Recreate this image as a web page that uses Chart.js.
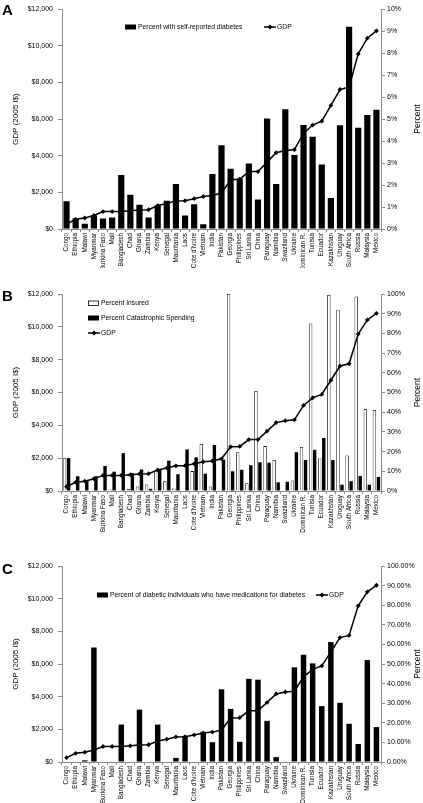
<!DOCTYPE html>
<html><head><meta charset="utf-8">
<script src="https://cdn.jsdelivr.net/npm/chart.js@4.4.1/dist/chart.umd.min.js"></script>
<style>
html,body{margin:0;padding:0;background:#fff;width:423px;height:803px;overflow:hidden;}
.panel{position:absolute;left:0;width:423px;}
.lbl{position:absolute;left:2px;font:bold 15px "Liberation Sans",Arial,sans-serif;color:#000;}
</style></head><body>
<div class="panel" style="top:0;height:268px"><canvas id="cA" width="423" height="268"></canvas></div>
<div class="panel" style="top:268px;height:267px"><canvas id="cB" width="423" height="267"></canvas></div>
<div class="panel" style="top:535px;height:268px"><canvas id="cC" width="423" height="268"></canvas></div>
<div class="lbl" style="top:1px">A</div>
<div class="lbl" style="top:287px">B</div>
<div class="lbl" style="top:560px">C</div>
<script>
const countries = ["Congo","Ethiopia","Malawi","Myanmar","Burkina Faso","Mali","Bangladesh","Chad","Ghana","Zambia","Kenya","Senegal","Mauritania","Laos","Cote d'Ivoire","Vietnam","India","Pakistan","Georgia","Philippines","Sri Lanka","China","Paraguay","Namibia","Swaziland","Ukraine","Dominican R.","Tunisia","Ecuador","Kazakhstan","Uruguay","South Africa","Russia","Malaysia","Mexico"];
const gdp = [265,530,600,740,950,950,950,990,1040,1055,1280,1395,1535,1545,1655,1775,1830,1960,2690,2715,3135,3135,3650,4165,4285,4335,5215,5675,5885,6745,7615,7750,9560,10420,10820];
const diabetesPct = [1.26,0.49,0.24,0.62,0.48,0.52,2.46,1.56,1.10,0.52,1.07,1.29,2.05,0.61,1.13,0.22,2.50,3.81,2.74,2.30,2.98,1.34,5.03,2.05,5.45,3.37,4.73,4.20,2.94,1.41,4.72,9.20,4.61,5.19,5.42];
const insuredPct = [16.6,0,0.4,0,0.3,0.8,0,1.1,2.3,3.3,10.4,4.9,1.3,0.3,10.1,23.9,2.3,0.3,100,19.7,3.9,50.8,22.8,15.7,0,5.3,22.3,85,16.5,99.5,92,18,98.7,41.7,41.1];
const catastrophicPct = [16.7,7.5,5.5,7.5,12.7,9.8,19.2,9.1,10.9,1.1,11,15.4,8.5,21.1,17.1,8.8,23.4,15.9,10,10.8,13.1,14.6,14.4,4.4,4.7,19.7,15.7,20.9,26.9,15.7,3.2,5,7.6,3.2,7.1];
const medicationPct = [0,0,0.85,58.4,0,0,19.1,0,26.7,0,19.1,0,2.1,13.3,0,15.4,10.1,37.1,27.1,10.3,42.4,42,21,2.5,0,48.3,54.7,50.3,28.5,61.2,30.2,19.5,9.2,52,17.8];
const gdpTicks = [0,2000,4000,6000,8000,10000,12000];

const FF = '"Liberation Sans",Arial,sans-serif';
const AX = '#8c8c8c';

function gdpLine(){
  return {type:'line',label:'GDP',data:gdp,yAxisID:'y',order:0,borderColor:'#000',backgroundColor:'#000',
    borderWidth:1.5,pointStyle:'rectRot',pointRadius:2.4,pointBorderWidth:0,tension:0};
}

function squeezeText(ctx, txt, x, y, k){
  ctx.save(); ctx.translate(x, y); ctx.scale(k, 1); ctx.fillText(txt, 0, 0); ctx.restore();
}

const legendPlugin = {
  id:'customLegend',
  afterDraw(chart, args, opts){
    const ctx = chart.ctx; ctx.save();
    ctx.font = '7.5px ' + FF; ctx.textBaseline = 'middle'; ctx.fillStyle = '#000';
    opts.items.forEach(it => {
      const ds = chart.data.datasets[it.ds];
      if (ds.type === 'line'){
        ctx.strokeStyle = '#000'; ctx.lineWidth = 1.5;
        ctx.beginPath(); ctx.moveTo(it.x, it.y); ctx.lineTo(it.x+12, it.y); ctx.stroke();
        ctx.beginPath(); ctx.moveTo(it.x+6, it.y-2.5); ctx.lineTo(it.x+8.5, it.y); ctx.lineTo(it.x+6, it.y+2.5); ctx.lineTo(it.x+3.5, it.y); ctx.closePath(); ctx.fill();
        squeezeText(ctx, ds.label, it.x+13, it.y, 0.9);
      } else {
        ctx.fillStyle = ds.backgroundColor; ctx.fillRect(it.x, it.y-2.5, 11, 5);
        if (ds.borderWidth){ ctx.strokeStyle='#000'; ctx.lineWidth=0.8; ctx.strokeRect(it.x+0.5, it.y-2, 10, 4.5); }
        ctx.fillStyle = '#000';
        squeezeText(ctx, ds.label, it.x+13, it.y, 0.9);
      }
    });
    const ca = chart.chartArea;
    ctx.font = '8.5px ' + FF; ctx.textAlign = 'center';
    ctx.translate(418, (ca.top+ca.bottom)/2); ctx.rotate(-Math.PI/2);
    ctx.fillText('Percent', 0, 0);
    ctx.restore();
  }
};

function makeChart(id, datasets, pctMax, pctStep, pctDec, topPad, xHeight, legendItems){
  new Chart(document.getElementById(id), {
    data:{labels:countries, datasets},
    plugins:[legendPlugin],
    options:{
      responsive:false, animation:false, devicePixelRatio:1,
      layout:{padding:{top:topPad,left:0,right:0,bottom:0}},
      plugins:{legend:{display:false}, tooltip:{enabled:false}, customLegend:{items:legendItems}},
      scales:{
        x:{offset:true,
          grid:{display:true,drawOnChartArea:false,drawTicks:true,tickLength:3,color:AX,offset:true},
          border:{display:true,color:AX},
          ticks:{autoSkip:false,maxRotation:90,minRotation:90,padding:1,color:'#000',font:{family:FF,size:6.3}},
          afterFit:s=>{s.height = xHeight;}},
        y:{position:'left',min:0,max:12000,
          afterBuildTicks:s=>{s.ticks = gdpTicks.map(v=>({value:v}));},
          grid:{drawOnChartArea:false,drawTicks:true,tickLength:4,color:AX},
          border:{display:true,color:AX},
          title:{display:true,text:'GDP (2005 I$)',color:'#000',font:{family:FF,size:8},padding:{top:11,bottom:0}},
          ticks:{color:'#000',padding:5,font:{family:FF,size:7},callback:v=>'$'+v.toLocaleString('en-US')},
          afterFit:s=>{s.width = 62;}},
        y1:{position:'right',min:0,max:pctMax,
          grid:{drawOnChartArea:false,drawTicks:true,tickLength:4,color:AX},
          border:{display:true,color:AX},
          ticks:{stepSize:pctStep,color:'#000',padding:2,font:{family:FF,size:7},callback:v=>v.toFixed(pctDec)+'%'},
          afterFit:s=>{s.width = 42;}}
      }
    }
  });
}

makeChart('cA', [
  gdpLine(),
  {type:'bar',label:'Percent with self-reported diabetes',data:diabetesPct,yAxisID:'y1',order:1,
   backgroundColor:'#000',borderWidth:0,barPercentage:0.68,categoryPercentage:1}
], 10, 1, 0, 5, 39, [{ds:1,x:125,y:27},{ds:0,x:264,y:27}]);

makeChart('cB', [
  gdpLine(),
  {type:'bar',label:'Percent Insured',data:insuredPct,yAxisID:'y1',order:1,
   backgroundColor:'#fff',borderColor:'#000',borderWidth:0.8,barPercentage:0.85,categoryPercentage:0.88},
  {type:'bar',label:'Percent Catastrophic Spending',data:catastrophicPct,yAxisID:'y1',order:1,
   backgroundColor:'#000',borderWidth:0,barPercentage:0.85,categoryPercentage:0.88}
], 100, 10, 0, 26, 44, [{ds:1,x:88,y:35},{ds:2,x:88,y:50},{ds:0,x:88,y:65}]);

makeChart('cC', [
  gdpLine(),
  {type:'bar',label:'Percent of diabetic individuals who have medications for diabetes',data:medicationPct,yAxisID:'y1',order:1,
   backgroundColor:'#000',borderWidth:0,barPercentage:0.6,categoryPercentage:1}
], 100, 10, 2, 31, 41, [{ds:1,x:97,y:60},{ds:0,x:316,y:60}]);
</script>
</body></html>
